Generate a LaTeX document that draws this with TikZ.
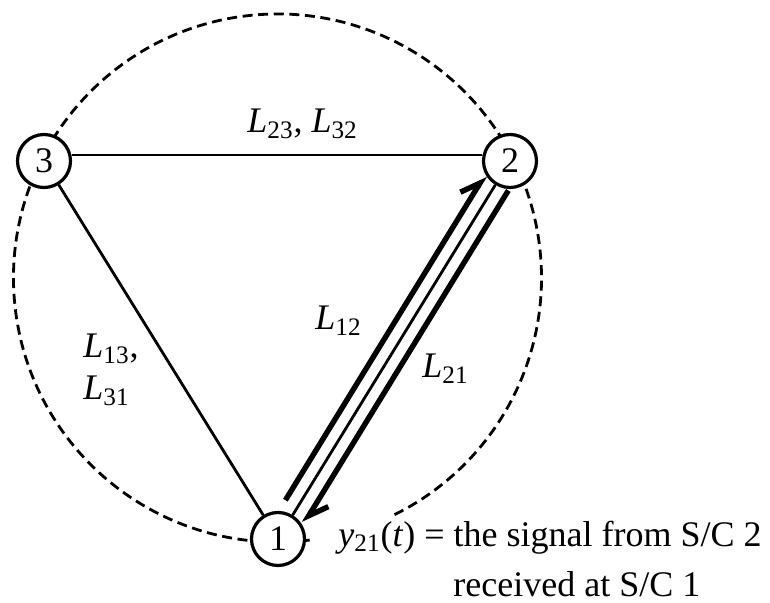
\documentclass[tikz,border=0pt]{standalone}
\usepackage{fontspec}
\setmainfont{Liberation Serif}
\usetikzlibrary{arrows.meta,calc}

\begin{document}
\begin{tikzpicture}[
    x=0.5pt, y=-0.5pt,
    craft/.style={circle, draw, line width=1.6pt, fill=white, minimum size=26.5pt, inner sep=0pt, font=\fontsize{18}{21}\selectfont},
    link/.style={line width=1.4pt},
    orbit/.style={line width=1.4pt, dash pattern=on 5pt off 2.8pt},
    beam/.style={line width=2.7pt, -{Straight Barb[left, length=9pt, width=12pt]}},
    lbl/.style={inner sep=0pt, anchor=base west, align=left, font=\fontsize{18}{21}\selectfont}
  ]
  \useasboundingbox (0,0) rectangle (770,603);

  % dashed orbit, open on the lower right
  \coordinate (cc) at (277.5,278);
  \draw[orbit] (cc) ++(83:264) arc[start angle=83, end angle=424, radius=264];

  \node[craft] (n3) at (44,161) {3};
  \node[craft] (n2) at (510,161) {2};
  \node[craft] (n1) at (278,539) {1};

  \draw[link] ([yshift=3pt]n3.east) -- ([yshift=3pt]n2.west);
  \draw[link] (n3) -- (n1);
  \draw[link] (n1) -- (n2);
  % the two one-way links beside the middle line
  \draw[beam, shorten <=18.5pt, shorten >=12.8pt] ($(n1)!7pt!90:(n2)$) -- ($(n2)!7pt!-90:(n1)$);
  \draw[beam, shorten <=13pt, shorten >=13.5pt] ($(n2)!7pt!90:(n1)$) -- ($(n1)!7pt!-90:(n2)$);

  \node[lbl] (l23) at (247,133) {\textit{L}\textsubscript{23}, \textit{L}\textsubscript{32}};
  \node[lbl] (l12) at (315,330) {\textit{L}\textsubscript{12}};
  \node[lbl] (l21) at (422,378) {\textit{L}\textsubscript{21}};
  \node[lbl] (l13) at (83,400) {\textit{L}\textsubscript{13},\\\textit{L}\textsubscript{31}};
  \node[lbl, font=\fontsize{18}{25}\selectfont] (sig) at (338,596)
    {\textit{y}\textsubscript{21}(\textit{t}) = the signal from S/C 2\\\hspace*{57.5pt}received at S/C 1};
\end{tikzpicture}
\end{document}
